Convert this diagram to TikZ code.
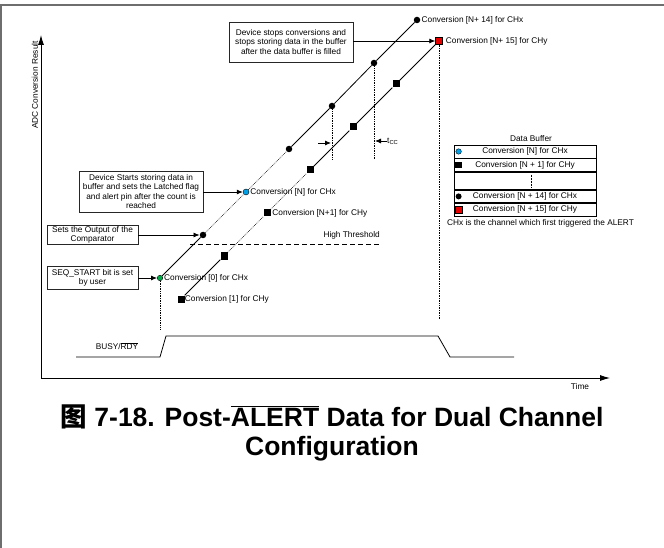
\documentclass[tikz,border=0pt]{standalone}
\usepackage{fontspec}
\setmainfont{Liberation Sans}
\newfontfamily\cjkfont{Noto Sans CJK SC}
\usepackage{tikz}
\usetikzlibrary{arrows.meta,positioning,calc}

\definecolor{markcyan}{RGB}{0,160,230}
\definecolor{markgreen}{RGB}{0,170,70}
\definecolor{markred}{RGB}{230,0,0}
\definecolor{framegray}{RGB}{110,110,110}

\begin{document}
\begin{tikzpicture}[x=1pt, y=-1pt,
    dotx/.style={circle, fill=black, inner sep=0pt, minimum size=6.5pt},
    sqy/.style={rectangle, fill=black, inner sep=0pt, minimum size=7pt},
    conv/.style={font=\fontsize{8.3}{10}\selectfont, inner sep=0pt},
    note/.style={draw=black!85, line width=0.8pt, align=center, inner sep=1pt, font=\fontsize{8.3}{9.6}\selectfont},
    arrow/.style={-{Latex[length=6pt,width=5pt]}, line width=0.8pt},
    axis/.style={{Latex[length=10pt,width=6pt]}-{Latex[length=10pt,width=6pt]}, line width=0.9pt},
    guide/.style={densely dotted, line width=0.7pt},
    bufrow/.style={draw, line width=0.8pt, minimum width=142pt, inner sep=0pt, font=\fontsize{8.3}{10}\selectfont}
]
\useasboundingbox (0,0) rectangle (664,548);
\draw[framegray, line width=1.5pt] (664,5) -- (1,5) -- (1,548);

% axes
\coordinate (orig) at (41,378);
\coordinate (ytop) at (41,35);
\coordinate (xend) at (610,378);
\draw[axis] (ytop) -- (orig) -- (xend);
\node[conv, rotate=90] (ylab) at (35,85) {ADC Conversion Result};
\node[conv] (tlab) at (580,387) {Time};

% CHx conversions
\node[dotx, fill=markgreen, draw=black, line width=0.4pt, minimum size=5.5pt] (x0) at (160,278) {};
\node[dotx] (x1) at (203,235) {};
\node[dotx, fill=markcyan, draw=black, line width=0.4pt, minimum size=6pt] (x2) at (246,192) {};
\node[dotx] (x3) at (289,149) {};
\node[dotx] (x4) at (332,106) {};
\node[dotx] (x5) at (374,63) {};
\node[dotx] (x6) at (417,20) {};
\draw[line width=0.8pt] (x0) -- (x1);
\draw[guide] (x1) -- (x2) -- (x3);
\draw[line width=0.8pt] (x3) -- (x4) -- (x5) -- (x6);

% CHy conversions
\node[sqy] (y0) at (181,299) {};
\node[sqy] (y1) at (224,256) {};
\node[sqy] (y2) at (267,213) {};
\node[sqy] (y3) at (310,170) {};
\node[sqy] (y4) at (353,127) {};
\node[sqy] (y5) at (396,84) {};
\node[sqy, fill=markred, draw=black, line width=0.4pt] (y6) at (439,41) {};
\draw[line width=0.8pt] (y0) -- (y1);
\draw[guide] (y1) -- (y2) -- (y3);
\draw[line width=0.8pt] (y3) -- (y4) -- (y5) -- (y6);

\node[conv, right=1pt of x0] (lx0) {Conversion [0] for CHx};
\node[conv, right=0pt of y0] (ly0) {Conversion [1] for CHy};
\node[conv, right=1pt of x2] (lx2) {Conversion [N] for CHx};
\node[conv, right=1.5pt of y2] (ly2) {Conversion [N+1] for CHy};
\node[conv, right=1pt of x6] (lx6) {Conversion [N+ 14] for CHx};
\node[conv, right=3pt of y6] (ly6) {Conversion [N+ 15] for CHy};

% threshold
\coordinate (thA) at (190,244);
\coordinate (thB) at (380,244);
\draw[dashed, line width=0.8pt, dash pattern=on 5pt off 3pt] (thA) -- (thB);
\node[conv, anchor=south east] (thlab) at (380,239) {High Threshold};

% guides down from conversions
\coordinate (x0d) at (160,330);
\coordinate (x4d) at (332,159);
\coordinate (x5d) at (374,159);
\coordinate (y6d) at (439,320);
\draw[guide] (x0) -- (x0d);
\draw[guide] (x4) -- (x4d);
\draw[guide] (x5) -- (x5d);
\draw[guide] (y6) -- (y6d);

% conversion time
\coordinate (tccA) at (318,143);
\coordinate (tccB) at (331,143);
\coordinate (tccC) at (387,141);
\coordinate (tccD) at (375,141);
\draw[arrow] (tccA) -- (tccB);
\draw[arrow] (tccC) -- (tccD);
\node[conv, anchor=west] (tcc) at (tccC) {t\textsubscript{CC}};

% notes
\node[note, minimum width=124pt, minimum height=41pt] (startbuf) at (141,191.5)
    {Device Starts storing data in\\buffer and sets the Latched flag\\and alert pin after the count is\\reached};
\node[note, minimum width=91pt, minimum height=18pt] (cmp) at (92.5,235)
    {Sets the Output of the\\Comparator};
\node[note, minimum width=91pt, minimum height=23pt] (seq) at (92.5,278)
    {SEQ\_START bit is set\\by user};
\node[note, minimum width=124pt, minimum height=40pt] (stop) at (291,42)
    {Device stops conversions and\\stops storing data in the buffer\\after the data buffer is filled};
\draw[arrow] (startbuf.east |- x2) -- (x2);
\draw[arrow] (cmp.east |- x1) -- (x1);
\draw[arrow] (seq.east |- x0) -- (x0);
\draw[arrow] (stop.east |- y6) -- (y6);

% BUSY/RDY
\coordinate (b1) at (76,357);
\coordinate (b2) at (160,357);
\coordinate (b3) at (166,336);
\coordinate (b4) at (438,336);
\coordinate (b5) at (450,357);
\coordinate (b6) at (514,357);
\draw[line width=0.8pt] (b1) -- (b2) -- (b3) -- (b4) -- (b5) -- (b6);
\node[conv] (busy) at (117,346) {BUSY/$\overline{\mbox{RDY}}$};

% data buffer
\node[conv] (buftitle) at (531,139) {Data Buffer};
\node[bufrow, minimum height=13pt] (r1) at (525,151.5) {Conversion [N] for CHx};
\node[bufrow, minimum height=12.5pt, below=0pt of r1] (r2) {Conversion [N + 1] for CHy};
\node[bufrow, minimum height=17.5pt, below=0pt of r2] (r3) {};
\node[bufrow, minimum height=12pt, below=0pt of r3] (r4) {Conversion [N + 14] for CHx};
\node[bufrow, minimum height=13pt, below=0pt of r4] (r5) {Conversion [N + 15] for CHy};
\node[dotx, fill=markcyan, draw=black, line width=0.4pt, minimum size=5.5pt] (m1) at ([xshift=5pt]r1.west) {};
\node[sqy, minimum size=6.5pt] (m2) at ([xshift=5pt]r2.west) {};
\node[dotx, minimum size=6pt] (m4) at ([xshift=5pt]r4.west) {};
\node[sqy, fill=markred, draw=black, line width=0.4pt, minimum size=6.5pt] (m5) at ([xshift=5pt]r5.west) {};
\draw[guide, line width=0.5pt] ([xshift=6pt, yshift=-3pt]r3.north) -- ([xshift=6pt, yshift=3pt]r3.south);
\node[conv, anchor=west] (bufnote) at (447,223) {CHx is the channel which first triggered the ALERT};

% caption
\node[anchor=base, font=\fontsize{26.5}{31}\selectfont\bfseries] (cap1) at (332,426)
    {{\cjkfont 图} 7-18. Post-$\overline{\mbox{ALERT}}$ Data for Dual Channel};
\node[anchor=base, font=\fontsize{26.5}{31}\selectfont\bfseries] (cap2) at (332,455)
    {Configuration};
\end{tikzpicture}
\end{document}
